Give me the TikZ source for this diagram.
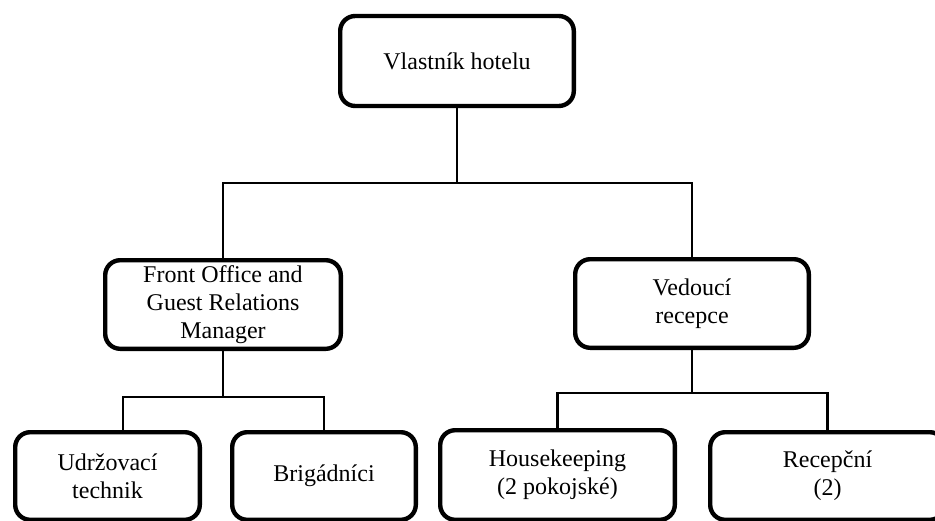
\documentclass[tikz,border=0pt]{standalone}
\usepackage{fontspec}
\setmainfont{Liberation Serif}

\begin{document}
\begin{tikzpicture}[x=0.5pt,y=-0.5pt,
  box/.style={draw,line width=2.2pt,rounded corners=7.5pt,align=center,
    inner sep=0pt,font=\fontsize{12}{14}\selectfont},
  con/.style={line width=1.2pt}]
  \clip (0,0) rectangle (935,520);

  % Owner
  \node[box,minimum width=116.8pt,minimum height=45pt] (owner) at (457,61) {Vlastník hotelu};

  % Second level
  \node[box,minimum width=117.8pt,minimum height=44.3pt] (fo) at (223,304.5)
    {Front Office and\\Guest Relations\\Manager};
  \node[box,minimum width=116.8pt,minimum height=44.3pt] (ved) at (692,303.5)
    {Vedoucí\\recepce};

  % Third level
  \node[box,minimum width=92.3pt,minimum height=43.8pt] (udr) at (107.5,476)
    {Udržovací\\technik};
  \node[box,minimum width=91.8pt,minimum height=43.8pt] (brig) at (324,476) {Brigádníci};
  \node[box,minimum width=117.3pt,minimum height=44.8pt] (hk) at (557.5,475)
    {Housekeeping\\(2 pokojské)};
  \node[box,minimum width=117.3pt,minimum height=43.8pt] (rec) at (827.5,476)
    {Recepční\\(2)};

  % Connectors
  \coordinate (j1) at (457,183);
  \draw[con] (owner) -- (j1);
  \draw[con] (j1) -| (fo);
  \draw[con] (j1) -| (ved);

  \coordinate (j2) at (223,397);
  \coordinate (j3) at (123,397);
  \draw[con] (fo) -- (j2) -- (j3) -- (j3 |- udr.north);
  \draw[con] (j2) -| (brig);

  \coordinate (j4) at (692,393);
  \draw[con] (ved) -- (j4);
  \draw[con] (j4) -| (hk);
  \draw[con] (j4) -| (rec);
\end{tikzpicture}
\end{document}
